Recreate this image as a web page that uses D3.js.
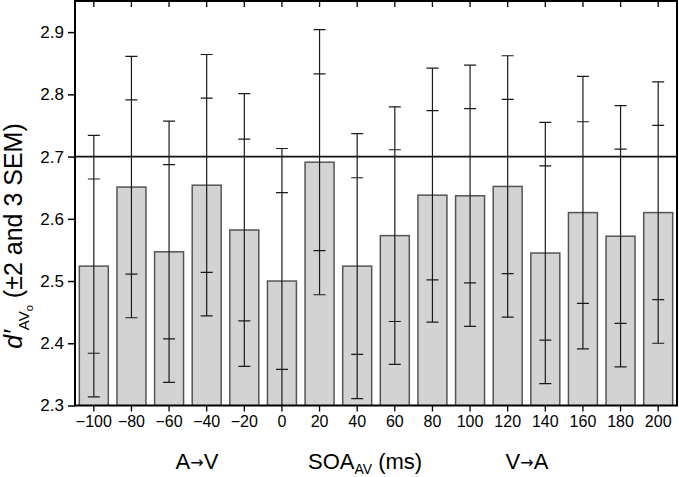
<!DOCTYPE html>
<html>
<head>
<meta charset="utf-8">
<script src="https://cdn.jsdelivr.net/npm/d3@7"></script>
<style>
  html, body { margin: 0; padding: 0; background: #fff; }
  svg { display: block; font-family: "Liberation Sans", Arial, Helvetica, sans-serif; }
</style>
</head>
<body>
<svg id="chart" width="679" height="477"></svg>
<script>
// ---- data ----
const soa = [-100, -80, -60, -40, -20, 0, 20, 40, 60, 80, 100, 120, 140, 160, 180, 200];
const means = [2.524, 2.651, 2.547, 2.654, 2.582, 2.500, 2.691, 2.524, 2.573, 2.638, 2.637, 2.652, 2.545, 2.610, 2.572, 2.610];
const sem = [0.070, 0.070, 0.070, 0.070, 0.073, 0.071, 0.071, 0.071, 0.069, 0.068, 0.070, 0.070, 0.070, 0.073, 0.070, 0.070];
const yTicks = [2.3, 2.4, 2.5, 2.6, 2.7, 2.8, 2.9];
const yDomain = [2.3, 2.95];
const refValue = 2.7;

// ---- layout ----
const L = 75, R = 677, T = 1, B = 405.5;
const svg = d3.select("#chart");

const x = d3.scaleBand().domain(soa).range([L, R]).paddingInner(0.23).paddingOuter(0.115);
const y = d3.scaleLinear().domain(yDomain).range([B, T]);

const data = soa.map((s, i) => ({ soa: s, mean: means[i], sem: sem[i] }));

svg.append("clipPath").attr("id", "plotclip")
  .append("rect").attr("x", L).attr("y", T).attr("width", R - L).attr("height", B - T);

const plot = svg.append("g").attr("clip-path", "url(#plotclip)");

// bars
plot.selectAll("rect.bar").data(data).enter().append("rect")
  .attr("class", "bar")
  .attr("x", d => x(d.soa))
  .attr("width", x.bandwidth())
  .attr("y", d => y(d.mean))
  .attr("height", d => B - y(d.mean) + 2)
  .attr("fill", "#d3d3d3")
  .attr("stroke", "#555")
  .attr("stroke-width", 1.5);

// reference line
plot.append("line")
  .attr("x1", L).attr("x2", R)
  .attr("y1", y(refValue)).attr("y2", y(refValue))
  .attr("stroke", "#111").attr("stroke-width", 1.6);

// error bars
const capW = 12;
const eb = plot.selectAll("g.eb").data(data).enter().append("g").attr("class", "eb")
  .attr("stroke", "#1a1a1a").attr("stroke-width", 1.2);
eb.append("line")
  .attr("x1", d => x(d.soa) + x.bandwidth() / 2)
  .attr("x2", d => x(d.soa) + x.bandwidth() / 2)
  .attr("y1", d => y(d.mean + 3 * d.sem))
  .attr("y2", d => y(d.mean - 3 * d.sem));
[3, 2, -2, -3].forEach(k => {
  eb.append("line")
    .attr("x1", d => x(d.soa) + x.bandwidth() / 2 - capW / 2)
    .attr("x2", d => x(d.soa) + x.bandwidth() / 2 + capW / 2)
    .attr("y1", d => y(d.mean + k * d.sem))
    .attr("y2", d => y(d.mean + k * d.sem));
});

// frame
svg.append("rect")
  .attr("x", L).attr("y", T).attr("width", R - L).attr("height", B - T)
  .attr("fill", "none").attr("stroke", "#000").attr("stroke-width", 2);

// left axis
const yAxis = svg.append("g").attr("transform", `translate(${L},0)`)
  .call(d3.axisLeft(y).tickValues(yTicks).tickSize(7).tickPadding(4).tickSizeOuter(0)
    .tickFormat(d3.format(".1f")));
yAxis.select(".domain").remove();
yAxis.selectAll("line").attr("stroke", "#000").attr("stroke-width", 1.5);
yAxis.selectAll("text").attr("font-size", 17).attr("fill", "#000")
  .attr("font-family", "'Liberation Sans', Arial, sans-serif");

// bottom axis
const xAxis = svg.append("g").attr("transform", `translate(0,${B})`)
  .call(d3.axisBottom(x).tickSize(6).tickPadding(4).tickSizeOuter(0).tickFormat(d3.format("d")));
xAxis.select(".domain").remove();
xAxis.selectAll("line").attr("stroke", "#000").attr("stroke-width", 1.3);
xAxis.selectAll("text").attr("font-size", 16).attr("fill", "#000")
  .attr("font-family", "'Liberation Sans', Arial, sans-serif");

// top ticks (inward)
const tAxis = svg.append("g").attr("transform", `translate(0,${T})`)
  .call(d3.axisTop(x).tickSize(-6).tickSizeOuter(0).tickFormat(""));
tAxis.select(".domain").remove();
tAxis.selectAll("line").attr("stroke", "#000").attr("stroke-width", 1.3);

// y title
const yt = svg.append("text")
  .attr("transform", "translate(22,236) rotate(-90)")
  .attr("text-anchor", "middle")
  .attr("font-size", 25).attr("fill", "#000");
yt.append("tspan").attr("font-style", "italic").text("d′");
yt.append("tspan").attr("font-size", 15).attr("dy", 7).text("AV");
yt.append("tspan").attr("font-size", 11).attr("dy", 4).text("o");
yt.append("tspan").attr("dy", -11).text(" (±2 and 3 SEM)");

// x titles
const xtY = 469;
const arrowFont = "'DejaVu Sans', sans-serif";
const t1 = svg.append("text").attr("x", 197).attr("y", xtY).attr("text-anchor", "middle")
  .attr("font-size", 22).attr("fill", "#000");
t1.append("tspan").text("A");
t1.append("tspan").attr("font-size", 16).attr("font-family", arrowFont).attr("dy", -1).text("→");
t1.append("tspan").attr("dy", 1).text("V");

const t2 = svg.append("text").attr("x", 308).attr("y", xtY).attr("text-anchor", "start")
  .attr("font-size", 22).attr("fill", "#000");
t2.append("tspan").text("SOA");
t2.append("tspan").attr("font-size", 14).attr("dy", 5).text("AV");
t2.append("tspan").attr("dy", -5).text(" (ms)");

const t3 = svg.append("text").attr("x", 527).attr("y", xtY).attr("text-anchor", "middle")
  .attr("font-size", 22).attr("fill", "#000");
t3.append("tspan").text("V");
t3.append("tspan").attr("font-size", 16).attr("font-family", arrowFont).attr("dy", -1).text("→");
t3.append("tspan").attr("dy", 1).text("A");
</script>
</body>
</html>
